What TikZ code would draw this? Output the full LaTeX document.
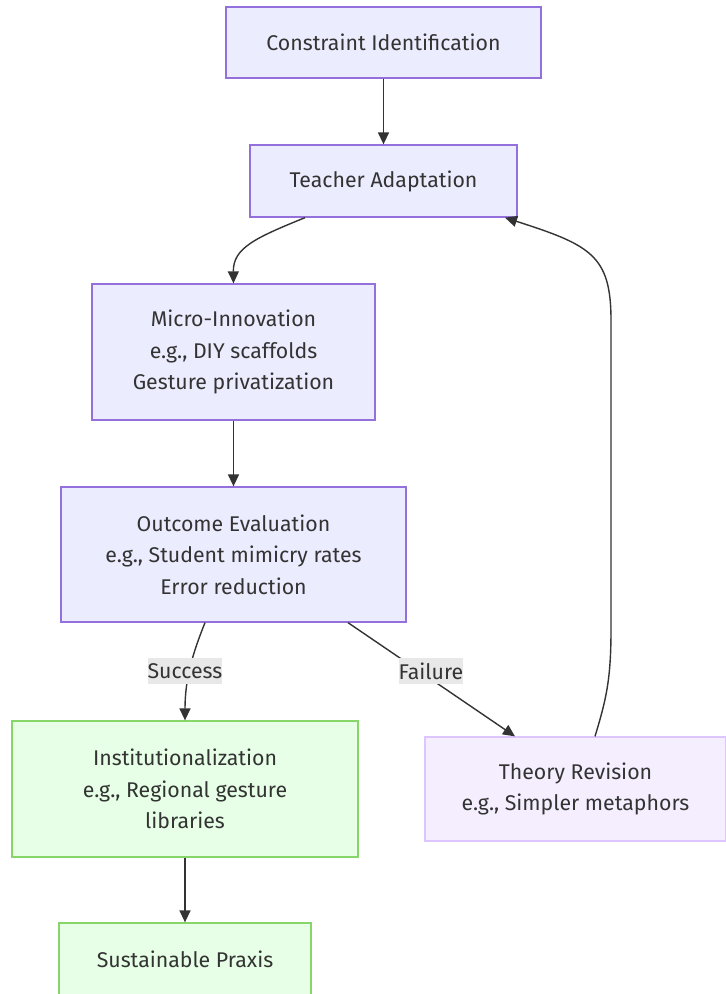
\documentclass[tikz,border=0pt]{standalone}
\usepackage{fontspec}
\setmainfont{Fira Sans}
\usetikzlibrary{arrows.meta,calc}
\definecolor{nodefill}{HTML}{ECECFF}
\definecolor{nodeline}{HTML}{9370DB}
\definecolor{greenfill}{HTML}{E6FFE6}
\definecolor{greenline}{HTML}{86D66A}
\definecolor{purpfill}{HTML}{F5EEFF}
\definecolor{purpline}{HTML}{DDC6FF}
\definecolor{txt}{HTML}{333333}
\definecolor{lblfill}{HTML}{E8E8E8}
\tikzset{
  box/.style={draw=nodeline, fill=nodefill, line width=1.3pt, text=txt, align=center,
    font=\fontsize{21.3}{31.5}\selectfont, inner sep=0pt},
  greenbox/.style={box, draw=greenline, fill=greenfill},
  purpbox/.style={box, draw=purpline, fill=purpfill},
  edge/.style={draw=txt, line width=1.4pt, -{Triangle[length=12pt,width=11pt]}},
  elabel/.style={fill=lblfill, text=txt, font=\fontsize{21.3}{24}\selectfont, inner xsep=0pt, inner ysep=5pt}
}
\begin{document}
\begin{tikzpicture}[x=1pt,y=-1pt]
\useasboundingbox (0,0) rectangle (726,994);
\node[box, minimum width=315pt, minimum height=71pt] (ci) at (383.5,42.5) {Constraint Identification};
\node[box, minimum width=267pt, minimum height=72pt] (ta) at (383.5,181) {Teacher Adaptation};
\node[box, minimum width=283pt, minimum height=136pt] (mi) at (233.5,352) {Micro-Innovation\\e.g., DIY scaffolds\\Gesture privatization};
\node[box, minimum width=345pt, minimum height=135pt] (oe) at (233.5,554.5) {Outcome Evaluation\\e.g., Student mimicry rates\\Error reduction};
\node[greenbox, minimum width=346pt, minimum height=136pt] (inst) at (185,789) {Institutionalization\\e.g., Regional gesture\\libraries};
\node[purpbox, minimum width=301pt, minimum height=104pt] (tr) at (575.5,789) {Theory Revision\\e.g., Simpler metaphors};
\node[greenbox, minimum width=252pt, minimum height=72pt] (sp) at (185,959) {Sustainable Praxis};

\draw[edge] (ci.south) -- (ta.north);
\draw[edge] ([xshift=-78.5pt]ta.south) .. controls (255,238) and (233,248) .. (mi.north);
\draw[edge] (mi.south) -- (oe.north);
\draw[edge] ([xshift=-28.5pt]oe.south) .. controls (192,655) and (185,680) .. (inst.north);
\draw[edge] ([xshift=114.5pt]oe.south) -- ([xshift=-60.5pt]tr.north);
\draw[edge] ([xshift=19.5pt]tr.north) .. controls (606,700) and (611,680) .. (611,630) -- (611,320) .. controls (611,255) and (590,245) .. ([xshift=121.5pt]ta.south);
\draw[edge] (inst.south) -- (sp.north);

\node[elabel] (ls) at (185,671) {Success};
\node[elabel] (lf) at (431,671) {Failure};
\end{tikzpicture}
\end{document}
